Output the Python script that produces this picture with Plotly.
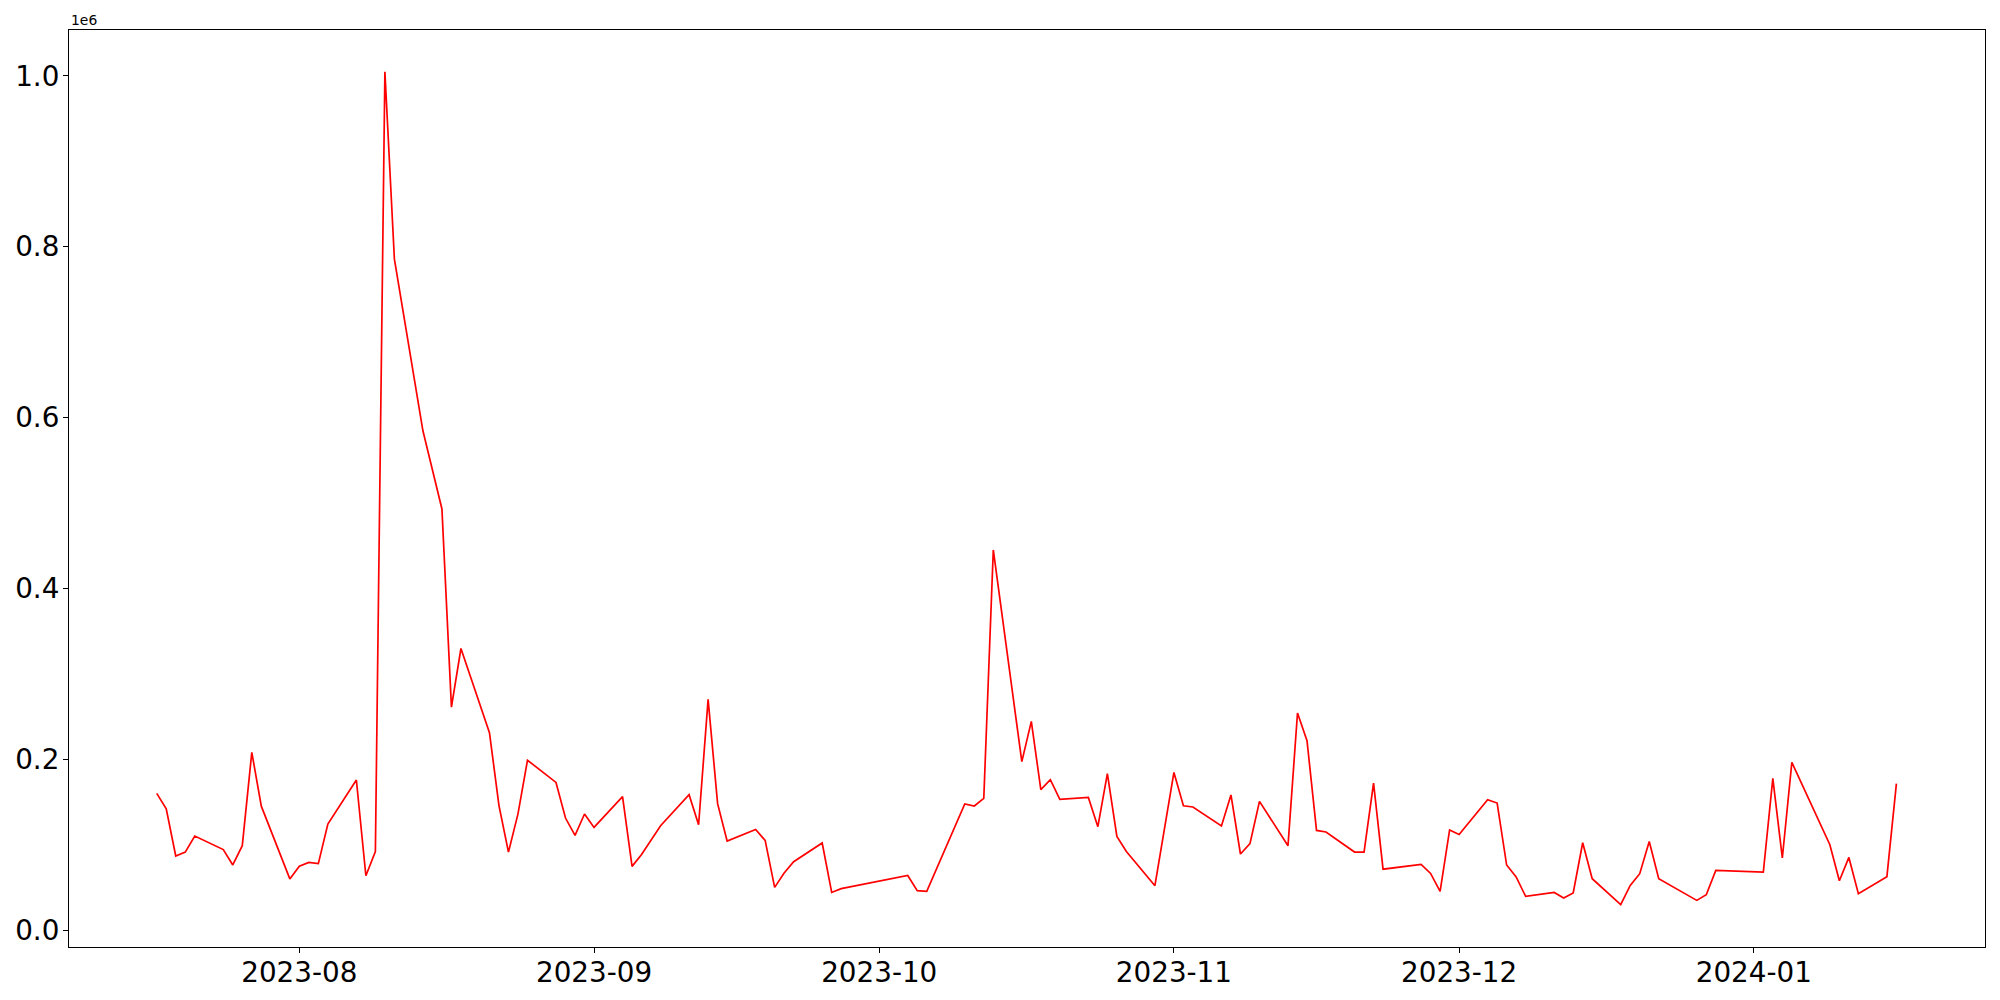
import plotly.graph_objects as go

dates = [
    "2023-07-17", "2023-07-18", "2023-07-19", "2023-07-20", "2023-07-21",
    "2023-07-24", "2023-07-25", "2023-07-26", "2023-07-27", "2023-07-28",
    "2023-07-31", "2023-08-01", "2023-08-02", "2023-08-03", "2023-08-04",
    "2023-08-07", "2023-08-08", "2023-08-09", "2023-08-10", "2023-08-11",
    "2023-08-14", "2023-08-16", "2023-08-17", "2023-08-18",
    "2023-08-21", "2023-08-22", "2023-08-23", "2023-08-24", "2023-08-25",
    "2023-08-28", "2023-08-29", "2023-08-30", "2023-08-31", "2023-09-01",
    "2023-09-04", "2023-09-05", "2023-09-06", "2023-09-08",
    "2023-09-11", "2023-09-12", "2023-09-13", "2023-09-14", "2023-09-15",
    "2023-09-18", "2023-09-19", "2023-09-20", "2023-09-21", "2023-09-22",
    "2023-09-25", "2023-09-26", "2023-09-27",
    "2023-10-04", "2023-10-05", "2023-10-06",
    "2023-10-10", "2023-10-11", "2023-10-12", "2023-10-13",
    "2023-10-16", "2023-10-17", "2023-10-18", "2023-10-19", "2023-10-20",
    "2023-10-23", "2023-10-24", "2023-10-25", "2023-10-26", "2023-10-27",
    "2023-10-30", "2023-11-01", "2023-11-02", "2023-11-03",
    "2023-11-06", "2023-11-07", "2023-11-08", "2023-11-09", "2023-11-10",
    "2023-11-13", "2023-11-14", "2023-11-15", "2023-11-16", "2023-11-17",
    "2023-11-20", "2023-11-21", "2023-11-22", "2023-11-23",
    "2023-11-27", "2023-11-28", "2023-11-29", "2023-11-30", "2023-12-01",
    "2023-12-04", "2023-12-05", "2023-12-06", "2023-12-07", "2023-12-08",
    "2023-12-11", "2023-12-12", "2023-12-13", "2023-12-14", "2023-12-15",
    "2023-12-18", "2023-12-19", "2023-12-20", "2023-12-21", "2023-12-22",
    "2023-12-26", "2023-12-27", "2023-12-28",
    "2024-01-02", "2024-01-03", "2024-01-04", "2024-01-05",
    "2024-01-09", "2024-01-10", "2024-01-11", "2024-01-12",
    "2024-01-15", "2024-01-16",
]

values = [
    160000, 142000, 86700, 91200, 110000,
    94200, 76200, 98700, 208000, 145000,
    59800, 74700, 79200, 77700, 124000,
    175600, 63500, 91900, 1005000, 785500,
    584500, 493000, 261000, 329600,
    231000, 145700, 91200, 136000, 198800,
    172800, 131100, 110800, 135800, 120100,
    156100, 74500, 88500, 122100,
    158400, 123300, 270000, 147900, 104200,
    117800, 104900, 49900, 66700, 80000,
    101900, 44000, 48400,
    63900, 46000, 45200,
    147500, 145200, 154100, 445000,
    197100, 244300, 164300, 176000, 152900,
    155300, 121000, 183000, 109600, 92000,
    51900, 184500, 145500, 144000,
    121800, 158100, 89000, 101100, 150600,
    98700, 254100, 221700, 116600, 114800,
    91300, 91300, 171900, 71200,
    76700, 66200, 45200, 117100, 111900,
    152600, 148700, 76100, 62100, 39300,
    44000, 37500, 43300, 102200, 60100,
    29600, 52200, 65900, 103700, 60100,
    34700, 41300, 69800,
    67900, 177500, 84300, 196300,
    99900, 57700, 85000, 42500,
    62400, 171300,
]

y_tick_values = [0, 200000, 400000, 600000, 800000, 1000000]
y_tick_labels = ["0.0", "0.2", "0.4", "0.6", "0.8", "1.0"]

FONT = "DejaVu Sans"

fig = go.Figure()
fig.add_trace(go.Scatter(
    x=dates, y=values, mode="lines",
    line=dict(color="red", width=1.7),
    showlegend=False,
))

axis_common = dict(
    showline=True, linecolor="black", linewidth=1.1, mirror=True,
    ticks="outside", ticklen=5, tickwidth=1.1, tickcolor="black",
    showgrid=False, zeroline=False, automargin=False,
    tickfont=dict(family=FONT, size=27.8, color="black"),
)

fig.update_layout(
    width=2000, height=1000,
    margin=dict(l=69, r=15, t=30, b=53, autoexpand=False),
    paper_bgcolor="white", plot_bgcolor="white",
    font=dict(family=FONT, color="black"),
    xaxis=dict(
        type="date",
        range=["2023-07-07 18:30", "2024-01-25 07:40"],
        tickformat="%Y-%m", dtick="M1", tick0="2023-08-01",
        ticklabelstandoff=-4,
        **axis_common,
    ),
    yaxis=dict(
        range=[-19900, 1053800],
        tickvals=y_tick_values, ticktext=y_tick_labels,
        ticklabelstandoff=-2,
        **axis_common,
    ),
    annotations=[dict(
        text="1e6", xref="paper", yref="paper", x=0, y=1,
        xanchor="left", yanchor="bottom", showarrow=False,
        font=dict(family=FONT, size=13.9, color="black"), yshift=0,
    )],
)

fig.write_html(
    "out.html",
    config={"displayModeBar": False},
    post_script="document.body.style.margin='0';document.body.style.overflow='hidden';",
)
